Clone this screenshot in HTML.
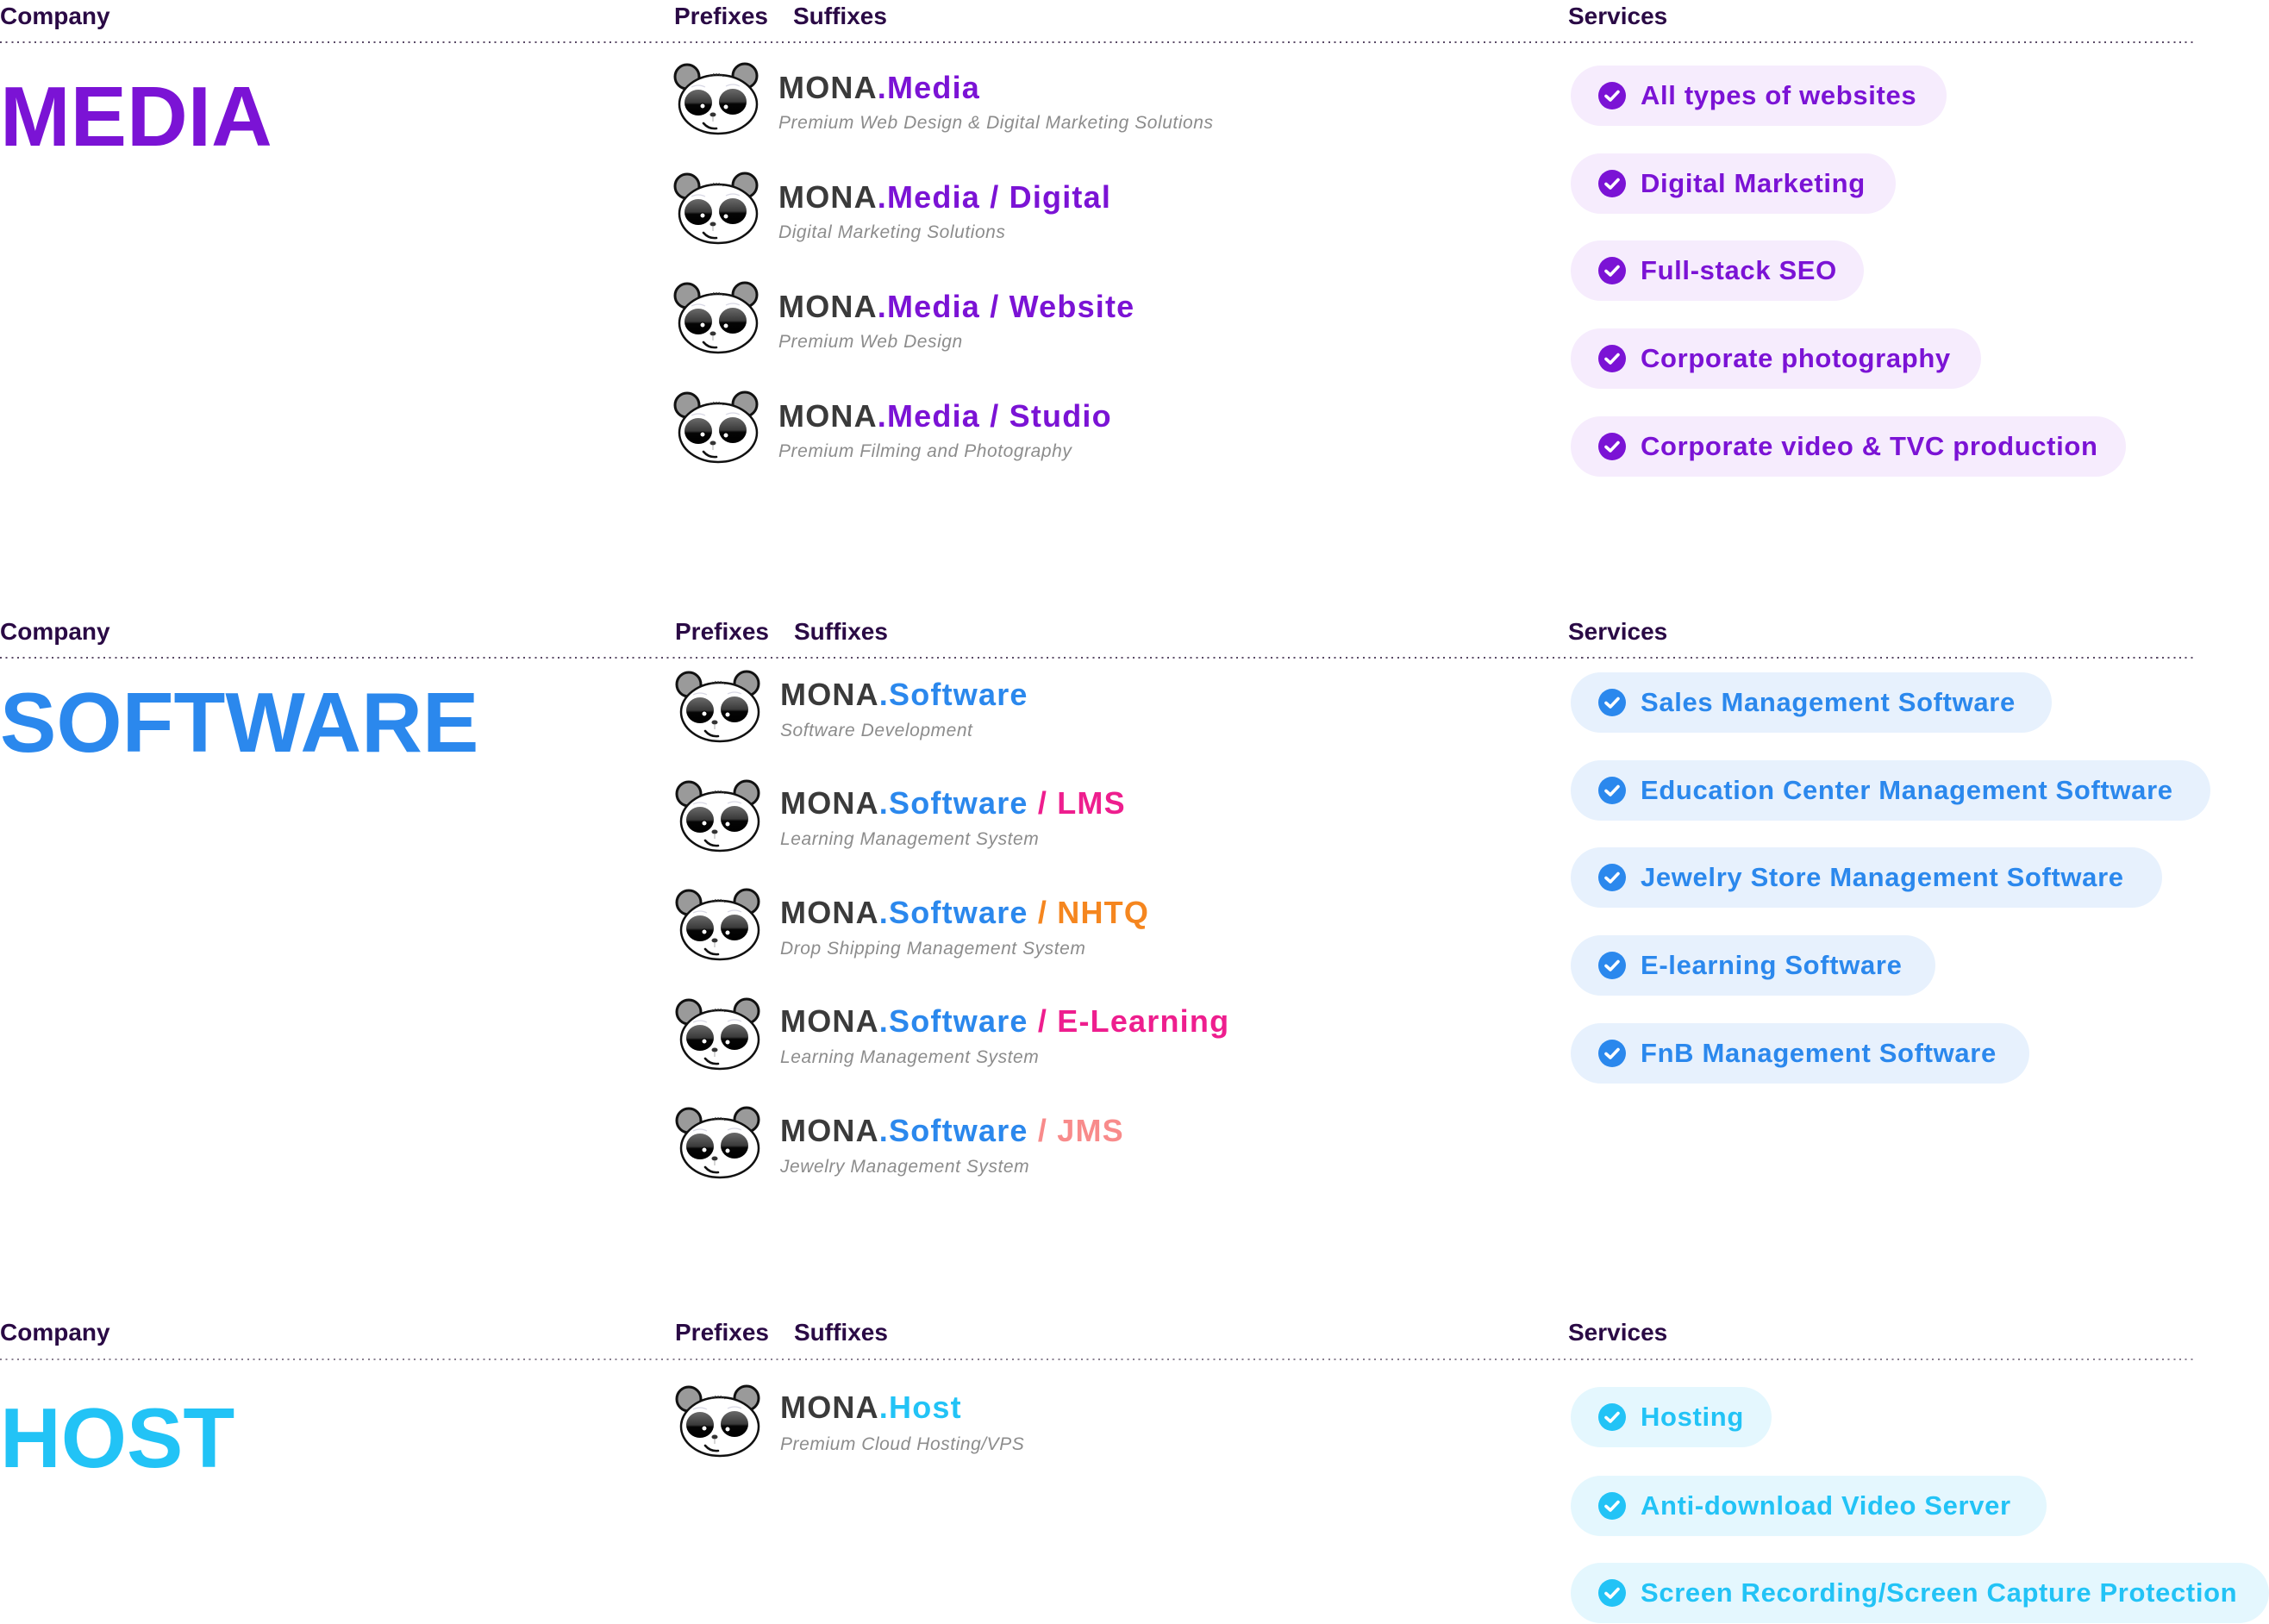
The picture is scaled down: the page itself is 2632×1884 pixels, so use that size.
<!DOCTYPE html>
<html><head><meta charset="utf-8">
<style>
html,body{margin:0;padding:0;background:#fff;}
body{width:2632px;height:1884px;position:relative;overflow:hidden;font-family:"Liberation Sans",Arial,sans-serif;}
.a{position:absolute;white-space:nowrap;}
.hd{font-size:28px;line-height:28px;font-weight:bold;color:#2a0a45;}
.dot{position:absolute;left:0;width:2548px;height:2px;background-image:repeating-linear-gradient(to right,#5a4a66 0,#5a4a66 2px,transparent 2px,transparent 6.67px);}
.big{font-size:98px;line-height:98px;font-weight:bold;left:0;}
.ti{font-size:36px;line-height:36px;font-weight:bold;color:#3a3a3a;letter-spacing:1.2px;}
.su{font-size:21px;line-height:21px;font-style:italic;color:#8c8c8c;letter-spacing:0.55px;}
.pd{position:absolute;width:110px;height:90px;}
.pill{position:absolute;left:1822px;height:70px;border-radius:35px;overflow:hidden;white-space:nowrap;}
.pill svg{position:absolute;left:32px;top:19px;}
.pill span{position:absolute;left:81px;top:0;font-size:31px;line-height:70px;font-weight:bold;letter-spacing:0.65px;}
.m .pill{background:#f6ecfd;} .m .pill span{color:#7b13d5;}
.s .pill{background:#e7f1fd;} .s .pill span{color:#2b88ed;}
.h .pill{background:#e4f7fe;} .h .pill span{color:#22c3f6;}
.pm{color:#7b13d5}.bl{color:#2b88ed}.pk{color:#ee1e8e}.or{color:#f5861f}.sa{color:#f88b8b}.cy{color:#22c3f6}
</style></head>
<body>
<svg width="0" height="0" style="position:absolute">
<defs>
<linearGradient id="eg" x1="0" y1="0" x2="0" y2="1">
<stop offset="0" stop-color="#6a6a6a"/><stop offset="0.5" stop-color="#3a3a3a"/><stop offset="0.58" stop-color="#050505"/><stop offset="1" stop-color="#000"/>
</linearGradient>
<symbol id="panda" viewBox="0 0 110 90">
<circle cx="19" cy="19" r="14" fill="#9a9a9a" stroke="#111" stroke-width="3"/>
<circle cx="86" cy="18" r="14" fill="#9a9a9a" stroke="#111" stroke-width="3"/>
<ellipse cx="55" cy="51" rx="45" ry="34" fill="#fff" stroke="#111" stroke-width="2.5"/>
<path d="M24 31 Q32 27 40 31 M64 30 Q72 26 80 30" stroke="#d8d8e4" stroke-width="1.2" fill="none"/>
<ellipse cx="32" cy="49" rx="16" ry="15" fill="url(#eg)"/>
<ellipse cx="72" cy="48" rx="16" ry="15" fill="url(#eg)"/>
<circle cx="37" cy="53" r="3" fill="#fff" stroke="#000" stroke-width="1"/>
<circle cx="64" cy="54" r="3" fill="#fff" stroke="#000" stroke-width="1"/>
<ellipse cx="49" cy="63" rx="3.5" ry="2.5" fill="#333"/>
<path d="M49 65 V71" stroke="#999" stroke-width="0.8"/>
<path d="M38 73 Q44 80 53 79" stroke="#111" stroke-width="2.6" fill="none" stroke-linecap="round"/>
<path d="M45 19 l2 -3 M49 18 l1 -3 M53 18 l0 -3 M57 18 l-1 -3 M61 19 l-2 -3" stroke="#333" stroke-width="1"/>
</symbol>
<symbol id="chk" viewBox="0 0 32 32">
<circle cx="16" cy="16" r="16" fill="currentColor"/>
<path d="M9 16.5 L14 21 L23 11.5" stroke="#fff" stroke-width="3.6" fill="none" stroke-linecap="round" stroke-linejoin="round"/>
</symbol>
</defs>
</svg>

<!-- SECTION 1 MEDIA -->
<div class="m">
<div class="a hd" style="left:0;top:5px">Company</div>
<div class="a hd" style="left:782px;top:5px">Prefixes</div>
<div class="a hd" style="left:920px;top:5px">Suffixes</div>
<div class="a hd" style="left:1819px;top:5px">Services</div>
<div class="dot" style="top:48px"></div>
<div class="a big" style="top:86px;color:#7b13d5">MEDIA</div>

<svg class="pd" style="left:778px;top:70px"><use href="#panda"/></svg>
<div class="a ti" style="left:903px;top:84px">MONA<span class="pm">.Media</span></div>
<div class="a su" style="left:903px;top:132px">Premium Web Design &amp; Digital Marketing Solutions</div>

<svg class="pd" style="left:778px;top:197px"><use href="#panda"/></svg>
<div class="a ti" style="left:903px;top:211px">MONA<span class="pm">.Media / Digital</span></div>
<div class="a su" style="left:903px;top:259px">Digital Marketing Solutions</div>

<svg class="pd" style="left:778px;top:324px"><use href="#panda"/></svg>
<div class="a ti" style="left:903px;top:338px">MONA<span class="pm">.Media / Website</span></div>
<div class="a su" style="left:903px;top:386px">Premium Web Design</div>

<svg class="pd" style="left:778px;top:451px"><use href="#panda"/></svg>
<div class="a ti" style="left:903px;top:465px">MONA<span class="pm">.Media / Studio</span></div>
<div class="a su" style="left:903px;top:513px">Premium Filming and Photography</div>

<div class="pill" style="top:76px;width:436px;color:#7b13d5"><svg width="32" height="32"><use href="#chk"/></svg><span>All types of websites</span></div>
<div class="pill" style="top:178px;width:377px;color:#7b13d5"><svg width="32" height="32"><use href="#chk"/></svg><span>Digital Marketing</span></div>
<div class="pill" style="top:279px;width:340px;color:#7b13d5"><svg width="32" height="32"><use href="#chk"/></svg><span>Full-stack SEO</span></div>
<div class="pill" style="top:381px;width:476px;color:#7b13d5"><svg width="32" height="32"><use href="#chk"/></svg><span>Corporate photography</span></div>
<div class="pill" style="top:483px;width:644px;color:#7b13d5"><svg width="32" height="32"><use href="#chk"/></svg><span>Corporate video &amp; TVC production</span></div>
</div>

<!-- SECTION 2 SOFTWARE -->
<div class="s">
<div class="a hd" style="left:0;top:719px">Company</div>
<div class="a hd" style="left:783px;top:719px">Prefixes</div>
<div class="a hd" style="left:921px;top:719px">Suffixes</div>
<div class="a hd" style="left:1819px;top:719px">Services</div>
<div class="dot" style="top:762px"></div>
<div class="a big" style="top:789px;color:#2b88ed">SOFTWARE</div>

<svg class="pd" style="left:780px;top:775px"><use href="#panda"/></svg>
<div class="a ti" style="left:905px;top:788px">MONA<span class="bl">.Software</span></div>
<div class="a su" style="left:905px;top:837px">Software Development</div>

<svg class="pd" style="left:780px;top:902px"><use href="#panda"/></svg>
<div class="a ti" style="left:905px;top:914px">MONA<span class="bl">.Software</span><span class="pk"> / LMS</span></div>
<div class="a su" style="left:905px;top:963px">Learning Management System</div>

<svg class="pd" style="left:780px;top:1028px"><use href="#panda"/></svg>
<div class="a ti" style="left:905px;top:1041px">MONA<span class="bl">.Software</span><span class="or"> / NHTQ</span></div>
<div class="a su" style="left:905px;top:1090px">Drop Shipping Management System</div>

<svg class="pd" style="left:780px;top:1155px"><use href="#panda"/></svg>
<div class="a ti" style="left:905px;top:1167px">MONA<span class="bl">.Software</span><span class="pk"> / E-Learning</span></div>
<div class="a su" style="left:905px;top:1216px">Learning Management System</div>

<svg class="pd" style="left:780px;top:1281px"><use href="#panda"/></svg>
<div class="a ti" style="left:905px;top:1294px">MONA<span class="bl">.Software</span><span class="sa"> / JMS</span></div>
<div class="a su" style="left:905px;top:1343px">Jewelry Management System</div>

<div class="pill" style="top:780px;width:558px;color:#2b88ed"><svg width="32" height="32"><use href="#chk"/></svg><span>Sales Management Software</span></div>
<div class="pill" style="top:882px;width:742px;color:#2b88ed"><svg width="32" height="32"><use href="#chk"/></svg><span>Education Center Management Software</span></div>
<div class="pill" style="top:983px;width:686px;color:#2b88ed"><svg width="32" height="32"><use href="#chk"/></svg><span>Jewelry Store Management Software</span></div>
<div class="pill" style="top:1085px;width:423px;color:#2b88ed"><svg width="32" height="32"><use href="#chk"/></svg><span>E-learning Software</span></div>
<div class="pill" style="top:1187px;width:532px;color:#2b88ed"><svg width="32" height="32"><use href="#chk"/></svg><span>FnB Management Software</span></div>
</div>

<!-- SECTION 3 HOST -->
<div class="h">
<div class="a hd" style="left:0;top:1532px">Company</div>
<div class="a hd" style="left:783px;top:1532px">Prefixes</div>
<div class="a hd" style="left:921px;top:1532px">Suffixes</div>
<div class="a hd" style="left:1819px;top:1532px">Services</div>
<div class="dot" style="top:1576px;background-image:repeating-linear-gradient(to right,#8a8090 0,#8a8090 2px,transparent 2px,transparent 6.67px)"></div>
<div class="a big" style="top:1619px;color:#22c3f6">HOST</div>

<svg class="pd" style="left:780px;top:1604px"><use href="#panda"/></svg>
<div class="a ti" style="left:905px;top:1615px">MONA<span class="cy">.Host</span></div>
<div class="a su" style="left:905px;top:1665px">Premium Cloud Hosting/VPS</div>

<div class="pill" style="top:1609px;width:233px;color:#22c3f6"><svg width="32" height="32"><use href="#chk"/></svg><span>Hosting</span></div>
<div class="pill" style="top:1712px;width:552px;color:#22c3f6"><svg width="32" height="32"><use href="#chk"/></svg><span>Anti-download Video Server</span></div>
<div class="pill" style="top:1813px;width:810px;color:#22c3f6"><svg width="32" height="32"><use href="#chk"/></svg><span>Screen Recording/Screen Capture Protection</span></div>
</div>
</body></html>
